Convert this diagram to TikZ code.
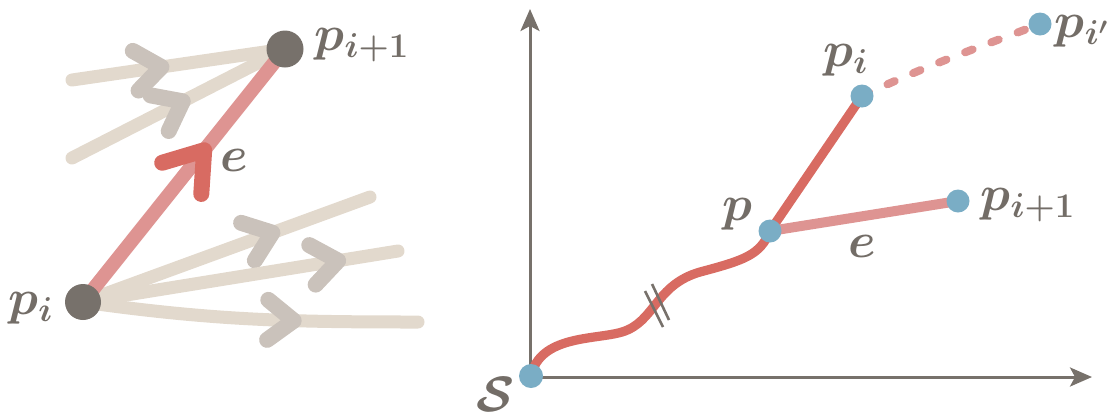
\documentclass[tikz,border=0pt]{standalone}
\usepackage{amsmath}
\usetikzlibrary{arrows.meta,decorations.markings,backgrounds}
\definecolor{stone}{HTML}{77716B}
\definecolor{ink}{HTML}{736D67}
\definecolor{sand}{HTML}{E2D9CD}
\definecolor{pebble}{HTML}{CAC2BB}
\definecolor{rose}{HTML}{DE9492}
\definecolor{brick}{HTML}{D86B62}
\definecolor{sky}{HTML}{7AADC5}

\begin{document}
\begin{tikzpicture}[x=0.5pt,y=-0.5pt,
  lbl/.style={text=ink,font=\boldmath\fontsize{24}{28}\selectfont,inner sep=0pt},
  gdot/.style={circle,fill=stone,minimum size=18pt,inner sep=0pt},
  bdot/.style={circle,fill=sky,minimum size=11.5pt,inner sep=0pt},
  flow/.style={draw=sand,line width=6.5pt,line cap=round,postaction={decorate},
    decoration={markings,mark=at position #1 with {\draw[pebble,line width=8pt,line cap=round,line join=round]
      (-13pt,10pt) -- (0pt,0pt) -- (-13pt,-10pt);}}},
  road/.style={draw=brick,line width=4.6pt,line cap=round},
  axis/.style={draw=stone,line width=1.5pt,-{Stealth[length=11pt,width=9.5pt,inset=2.5pt]}}]
  \useasboundingbox (0,0) rectangle (1117,414);

  % left: outgoing edges of p_i
  \node[gdot] (pi) at (83,302) {};
  \node[gdot,minimum size=18.5pt] (pj) at (285,49) {};
  \coordinate (f1) at (72,80);
  \coordinate (f2) at (72,158);
  \coordinate (f3) at (370,197);
  \coordinate (f4) at (398,251);
  \coordinate (f5) at (418,322);
  \node[lbl] at (31,308) {$p_i$};
  \node[lbl] at (362,45) {$p_{i+1}$};
  \node[lbl] at (234,160) {$e$};

  % right: path from S
  \coordinate (o) at (530,377);
  \coordinate (ytip) at (530,9);
  \coordinate (xtip) at (1092,377);
  \node[bdot,minimum size=12pt] (s) at (531,376) {};
  \node[bdot] (p) at (770,231) {};
  \node[bdot] (pr) at (862,96) {};
  \node[bdot] (pq) at (1040,24) {};
  \node[bdot] (pn) at (958,201) {};
  \node[lbl] at (496,394) {$\mathcal{S}$};
  \node[lbl] at (737,214) {$p$};
  \node[lbl] at (846,60) {$p_i$};
  \node[lbl] at (1082,31) {$p_{i'}$};
  \node[lbl] at (1028,205) {$p_{i+1}$};
  \node[lbl] at (862,246) {$e$};

  \begin{pgfonlayer}{background}
    \draw[flow=0.42] (f1) -- (pj.center);
    \draw[flow=0.52] (f2) -- (pj.center);
    \draw[flow=0.66] (pi.center) -- (f3);
    \draw[flow=0.81] (pi.center) -- (f4);
    \draw[flow=0.63] (pi.center) to[out=-8,in=180] (f5);
    \draw[draw=rose,line width=7pt,postaction={decorate},
      decoration={markings,mark=at position 0.6 with {\draw[brick,line width=8pt,line cap=round,line join=round]
        (-18pt,12.5pt) -- (0pt,0pt) -- (-18pt,-12.5pt);}}]
      (pi.center) -- (pj.center);

    \draw[axis] (o) -- (ytip);
    \draw[axis] (o) -- (xtip);
    \draw[road] (s.center) .. controls (540,335) and (595,340) .. (622,332)
      .. controls (655,322) and (655,285) .. (700,272)
      .. controls (745,260) and (760,255) .. (p.center);
    \draw[draw=stone,line width=1.3pt] (645,291) -- (663,327);
    \draw[draw=stone,line width=1.3pt] (652,284) -- (669,320);
    \draw[road] (p.center) -- (pr.center);
    \draw[draw=rose,line width=5pt,line cap=round] (p.center) -- (pn.center);
    \draw[draw=rose,line width=4pt,line cap=round,dash pattern=on 4pt off 10pt]
      (pr.center) .. controls (925,66) and (985,45) .. (pq.center);
  \end{pgfonlayer}
\end{tikzpicture}
\end{document}
